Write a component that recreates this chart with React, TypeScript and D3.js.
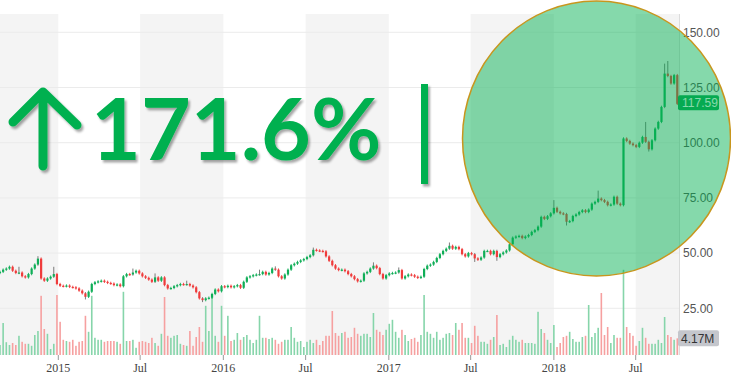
import React from 'react';
import * as d3 from 'd3';

const firstOpen = 41;
const startDate = Date.UTC(2014, 7, 25);

const closes: number[] = [
  41.5, 42.5, 43, 43.8, 42, 41, 41.2, 39.5, 39, 40.5,
  43, 44.8, 47.5, 38.5, 37.5, 38.5, 39.3, 40.5, 36, 35.2,
  35, 35.3, 34.7, 34.5, 34, 33, 31.8, 30.2, 32.5, 36,
  36.8, 37.2, 37.5, 37, 36.5, 36.2, 35.5, 35.8, 35, 39.5,
  40.5, 40.3, 41.2, 42, 40.8, 39.5, 38.8, 38, 37, 39,
  37.5, 39, 35.5, 34, 34.2, 35, 35.5, 36, 35.8, 36,
  35.3, 34.5, 32.3, 29.5, 28.7, 29.5, 29.8, 31.5, 33.5, 32.7,
  35, 34.6, 35.2, 34.5, 35, 35.5, 34.3, 37, 39, 39.5,
  40, 40.3, 40.5, 41.5, 40.3, 41, 43, 42.5, 39.5, 38.5,
  40.3, 42.5, 44.5, 45.2, 46, 46.7, 47.3, 48.2, 49, 51.5,
  51.2, 51, 50.8, 48.5, 46.5, 44.5, 43, 42.3, 42.5, 41.8,
  40.5, 39.5, 38.2, 37.2, 37.5, 40.8, 41.5, 43, 44.3, 43.2,
  40.5, 38.5, 40, 40.8, 41, 41.2, 42.3, 38.5, 39.5, 40.3,
  40, 39.3, 38.8, 39.3, 42.8, 44.3, 44.8, 46, 47.8, 49.5,
  51, 52, 53.3, 52, 52.8, 51.8, 49.5, 48.5, 50, 49.5,
  47.6, 47, 48, 51, 51, 49.5, 51, 48.2, 49.5, 50.3,
  51.2, 54, 57, 57.5, 57.8, 56.8, 57.5, 58.2, 59.6, 60.4,
  62, 66.4, 65.5, 66.7, 68, 70.5, 68.7, 68, 67.7, 64.2,
  64.5, 66.8, 67.5, 68.6, 69.4, 68.6, 69.7, 72.4, 73.2, 74.7,
  74, 73.2, 71.7, 72, 75.5, 72.4, 71.7, 101.9, 100.8, 99.6,
  98.9, 98.1, 100, 102.6, 100.4, 97, 101.1, 106.4, 109.4, 116.2,
  131.3, 130.2, 126.8, 130.6, 117.59,
];

// volume in millions
const volumes: number[] = [
  2.5, 8.0, 3.2, 2.5, 3.0, 2.5, 4.8, 3.3, 2.8, 2.8,
  2.3, 5.0, 6.0, 14.8, 6.5, 5.3, 1.5, 2.8, 15.0, 8.3,
  3.8, 3.5, 3.3, 3.8, 2.3, 3.3, 3.5, 9.8, 5.8, 14.8,
  4.3, 3.8, 3.8, 3.3, 3.5, 3.5, 3.5, 3.3, 2.8, 15.8,
  3.5, 3.5, 3.8, 1.8, 3.3, 3.5, 3.3, 3.0, 4.3, 3.0,
  2.3, 5.3, 14.5, 4.8, 4.3, 4.8, 5.0, 2.8, 2.5, 2.3,
  6.0, 2.3, 4.5, 7.0, 3.3, 12.3, 6.0, 14.8, 4.8, 3.3,
  12.3, 4.8, 9.8, 3.5, 3.8, 5.5, 3.8, 4.5, 5.0, 3.8,
  3.0, 3.8, 9.8, 4.3, 4.3, 4.0, 4.3, 3.8, 2.8, 3.3,
  3.8, 3.8, 7.0, 4.3, 3.3, 3.5, 2.0, 3.3, 3.8, 3.0,
  3.8, 2.5, 3.5, 4.8, 4.8, 11.0, 5.5, 4.8, 5.5, 5.8,
  4.3, 4.5, 6.8, 5.3, 4.8, 5.3, 5.3, 4.5, 10.5, 6.3,
  5.8, 5.0, 6.3, 7.8, 8.8, 5.8, 4.3, 6.3, 5.0, 3.5,
  4.0, 4.3, 3.3, 5.0, 15.0, 5.8, 5.3, 4.3, 5.8, 3.8,
  4.3, 5.3, 5.5, 5.0, 8.0, 6.3, 8.0, 4.3, 4.3, 3.0,
  7.3, 4.8, 3.3, 3.3, 2.8, 3.8, 4.5, 10.0, 2.5, 2.8,
  2.0, 3.8, 4.8, 3.8, 3.3, 3.8, 3.0, 3.0, 3.0, 2.8,
  10.8, 6.5, 5.5, 3.8, 3.0, 7.5, 2.0, 3.0, 4.5, 4.8,
  5.8, 4.0, 3.3, 3.3, 4.5, 4.8, 12.5, 4.5, 5.5, 6.8,
  15.5, 5.0, 7.0, 3.0, 5.0, 4.3, 4.3, 21.3, 7.0, 5.5,
  4.8, 2.3, 3.5, 6.8, 4.3, 2.8, 2.8, 2.8, 3.8, 3.0,
  9.5, 5.0, 4.5, 3.8, 4.17,
];

// notable wick extremes
const highIdx = [6, 12, 17, 42, 49, 59, 82, 87, 99, 118, 126, 142, 175, 189, 204, 210, 211];
const highVal = [43.8, 48.6, 43.8, 43, 40.8, 37.5, 42.5, 44, 52.5, 45.8, 43.5, 54.8, 74, 78.3, 109.4, 135.8, 137];
const lowIdx = [27, 64, 150, 157, 179, 205];
const lowVal = [29, 27.8, 46, 46.5, 62.5, 96];

const priceTicks = [25, 50, 75, 100, 125, 150];
const timeTicks = ['2015-01-01', '2015-07-01', '2016-01-01', '2016-07-01', '2017-01-01', '2017-07-01', '2018-01-01', '2018-07-01'];
const timeLabels = ['2015', 'Jul', '2016', 'Jul', '2017', 'Jul', '2018', 'Jul'];
const lastPrice = '117.59';
const lastVolume = '4.17M';
const headline = '171.6%';

const GREEN = '#00b050';
const UP = '#0fae57';
const DOWN = '#ef3b3b';

export default function App() {
  const plotRight = 679;
  const plotTop = 14;
  const plotBottom = 355;
  const DAY = 864e5;

  const x = d3
    .scaleUtc()
    .domain([Date.UTC(2015, 0, 1), Date.UTC(2018, 6, 1)])
    .range([58.3, 635.7]);
  const y = d3.scaleLinear().domain([25, 150]).range([308.3, 32.3]);
  const v = d3.scaleLinear().domain([0, 25]).range([plotBottom, plotBottom - 100]);

  const tickX = timeTicks.map((t) => x(new Date(t + 'T00:00:00Z')));
  const bands: [number, number][] = [];
  const edges = [0, ...tickX, plotRight];
  for (let k = 0; k < edges.length - 1; k += 2) bands.push([edges[k], edges[k + 1]]);

  const candles = closes.map((c, i) => {
    const o = i === 0 ? firstOpen : closes[i - 1];
    const hi = highIdx.indexOf(i);
    const lo = lowIdx.indexOf(i);
    return {
      x: x(new Date(startDate + i * 7 * DAY)),
      o,
      c,
      h: hi >= 0 ? highVal[hi] : null,
      l: lo >= 0 ? lowVal[lo] : null,
      up: c >= o,
      vol: volumes[i],
    };
  });

  const bw = 2.2;
  const yLast = y(117.59);

  return (
    <svg
      width={731}
      height={383}
      style={{ position: 'absolute', left: 0, top: 0, display: 'block' }}
      fontFamily="'Liberation Sans', Arial, sans-serif"
    >
      <defs>
        <clipPath id="plot">
          <rect x={0} y={plotTop} width={plotRight} height={plotBottom - plotTop} />
        </clipPath>
        <filter id="shadow" x="-10%" y="-10%" width="130%" height="130%">
          <feDropShadow dx={2} dy={2.5} stdDeviation={1.3} floodColor="#000" floodOpacity={0.35} />
        </filter>
      </defs>
      <rect x={0} y={0} width={731} height={383} fill="#fff" />
      {bands.map(([a, b], k) => (
        <rect key={k} x={a} y={plotTop} width={b - a} height={plotBottom - plotTop} fill="#f4f4f4" />
      ))}
      {priceTicks.map((p) => (
        <line key={p} x1={0} x2={plotRight} y1={y(p)} y2={y(p)} stroke="#ebebeb" strokeWidth={1} />
      ))}
      <line x1={plotRight + 0.5} x2={plotRight + 0.5} y1={plotTop} y2={plotBottom} stroke="#dcdcdc" />

      <g clipPath="url(#plot)">
        {candles.map((d, i) => (
          <rect
            key={'v' + i}
            x={d.x - 0.8}
            y={v(d.vol)}
            width={1.6}
            height={plotBottom - v(d.vol)}
            fill={d.up ? '#86d5aa' : '#f6a0a0'}
          />
        ))}
        {candles.map((d, i) => {
          const top = y(Math.max(d.o, d.c));
          const bot = y(Math.min(d.o, d.c));
          const wTop = d.h != null ? y(d.h) : top - 1.2;
          const wBot = d.l != null ? y(d.l) : bot + 1.2;
          const col = d.up ? UP : DOWN;
          return (
            <g key={'c' + i}>
              <line x1={d.x} x2={d.x} y1={wTop} y2={wBot} stroke={d.h != null || d.l != null ? '#6d6d6d' : col} strokeWidth={0.9} />
              <rect x={d.x - bw / 2} y={top} width={bw} height={Math.max(1.2, bot - top)} fill={col} />
            </g>
          );
        })}
      </g>

      {priceTicks.map((p) => (
        <text key={p} x={683} y={y(p)} dy="0.35em" fontSize={12} fill="#555">
          {p.toFixed(2)}
        </text>
      ))}
      {tickX.map((tx, k) => (
        <g key={k}>
          <line x1={tx} x2={tx} y1={plotBottom} y2={plotBottom + 5} stroke="#999" />
          <text
            x={tx}
            y={368}
            dy="0.35em"
            textAnchor="middle"
            fontSize={12}
            fill="#444"
            fontFamily="'Liberation Serif', 'DejaVu Serif', serif"
          >
            {timeLabels[k]}
          </text>
        </g>
      ))}

      <rect x={678} y={yLast - 8.5} width={41} height={15} rx={2} fill="#0aa553" />
      <text x={682} y={yLast - 1} dy="0.35em" fontSize={12} fill="#fff">
        {lastPrice}
      </text>
      <rect x={678} y={v(4.17) - 8} width={41} height={16} rx={2} fill="#c4c6cc" />
      <text x={681} y={v(4.17)} dy="0.35em" fontSize={12} fill="#333">
        {lastVolume}
      </text>

      <ellipse cx={596.5} cy={138.5} rx={134} ry={137.5} fill="rgba(0,176,80,0.48)" stroke="#c8961e" strokeWidth={1.5} />

      <g filter="url(#shadow)">
        <path
          d="M43,166 L43,92 M13,122 L43,92 L77,125"
          fill="none"
          stroke={GREEN}
          strokeWidth={9}
          strokeLinecap="round"
          strokeLinejoin="round"
        />
        <text x={91} y={160} fontSize={86} fontWeight="bold" fill={GREEN} fontFamily="Lato, 'Open Sans', sans-serif">
          {headline}
        </text>
        <rect x={421} y={84} width={7} height={100} fill={GREEN} />
      </g>
    </svg>
  );
}
